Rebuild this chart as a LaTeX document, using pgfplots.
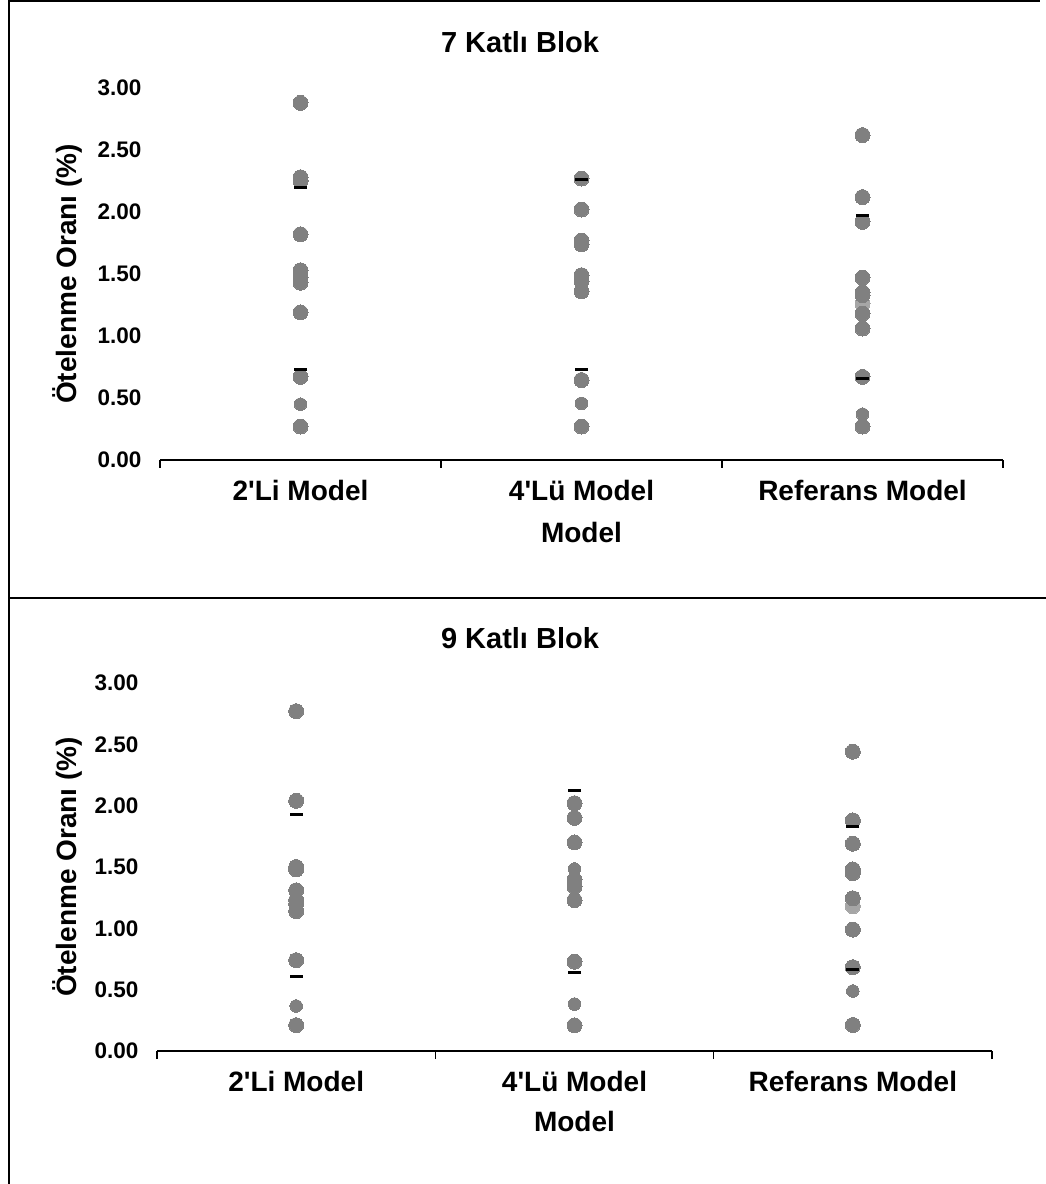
\documentclass[border=0pt]{standalone}
\usepackage{fontspec}
\setmainfont{Liberation Sans}
\usepackage{pgfplots}
\pgfplotsset{compat=1.18}
\definecolor{dotgray}{HTML}{808080}
\definecolor{lightgray}{HTML}{A6A6A6}
\pgfplotsset{
  panel/.style={
    scale only axis,
    xmin=-0.5, xmax=2.5, ymin=0, ymax=3,
    clip=false,
    axis x line*=bottom, axis y line*=left,
    x axis line style={-, line width=1.5pt, black},
    y axis line style={draw=none},
    ytick={0,0.5,1,1.5,2,2.5,3},
    ytick style={draw=none},
    xtick={0,1,2},
    xticklabels={2\textquotesingle Li Model,4\textquotesingle Lü Model,Referans Model},
    xtick style={draw=black, line width=1.5pt},
    major tick length=0pt,
    extra x ticks={-0.5,0.5,1.5,2.5},
    extra x tick labels={},
    extra x tick style={tick align=outside, major tick length=8pt},
    /pgf/number format/assume math mode=true,
    yticklabel={\pgfmathprintnumber[fixed,fixed zerofill,precision=2]{\tick}},
    yticklabel style={font=\fontsize{22.5}{26}\selectfont\bfseries, xshift=-15pt},
    xticklabel style={font=\fontsize{28}{32}\selectfont\bfseries, yshift=-17pt},
    xlabel={Model},
    ylabel={Ötelenme Oranı (\%)},
    label style={font=\fontsize{28}{32}\selectfont\bfseries},
    xlabel style={at={(axis description cs:0.5,0)}, anchor=center, yshift=-72pt},
    ylabel style={at={(axis description cs:0,0.5)}, anchor=center, yshift=93pt},
  },
  bigdot/.style={only marks, color=dotgray, mark=*, mark size=7.5pt, mark options={draw=dotgray, fill=dotgray, line width=0pt}},
  smalldot/.style={only marks, color=dotgray, mark=*, mark size=6.3pt, mark options={draw=dotgray, fill=dotgray, line width=0pt}},
  lightdot/.style={only marks, color=lightgray, mark=*, mark size=7.5pt, mark options={draw=lightgray, fill=lightgray, line width=0pt}},
  dash/.style={only marks, color=black, mark=-, mark size=6.5pt, mark options={draw=black, line width=3pt}},
}
\begin{document}
\begin{tikzpicture}
\path[use as bounding box] (0,0) rectangle (1046pt,1184pt);
\fill[white] (0,0) rectangle (1046pt,1184pt);
% frame lines
\draw[line width=2pt] (9pt,1183pt) -- (1040pt,1183pt);
\draw[line width=2.5pt] (9pt,1184pt) -- (9pt,0pt);
\draw[line width=2.5pt] (9pt,586pt) -- (1046pt,586pt);
% titles
\node at (520pt,1142pt) {\fontsize{29}{34}\selectfont\bfseries 7 Katlı Blok};
\node at (520pt,546pt) {\fontsize{29}{34}\selectfont\bfseries 9 Katlı Blok};

% ---------- top panel ----------
\begin{axis}[panel, at={(160pt,724pt)}, anchor=south west, width=843pt, height=372pt]
\addplot[lightdot] coordinates {(2,1.26)};
\addplot[bigdot] coordinates {
(0,2.88) (0,2.28) (0,2.25) (0,1.82) (0,1.53) (0,1.47) (0,1.43) (0,1.19) (0,0.67) (0,0.27)
(1,2.27) (1,2.02) (1,1.77) (1,1.74) (1,1.49) (1,1.44) (1,1.36) (1,0.645) (1,0.27)
(2,2.62) (2,2.12) (2,1.92) (2,1.47) (2,1.35) (2,1.33) (2,1.18) (2,1.06) (2,0.67) (2,0.27)
};
\addplot[smalldot] coordinates {(0,0.45) (1,0.457) (2,0.37)};
\addplot[dash] coordinates {(0,2.20) (0,0.73) (1,2.265) (1,0.726) (2,1.973) (2,0.656)};
\end{axis}

% ---------- bottom panel ----------
\begin{axis}[panel, at={(157pt,133pt)}, anchor=south west, width=835pt, height=368pt,
  ylabel style={yshift=-3pt}, xlabel style={yshift=2pt}]
\addplot[lightdot] coordinates {(2,1.18)};
\addplot[bigdot] coordinates {
(0,2.77) (0,2.04) (0,1.50) (0,1.48) (0,1.31) (0,1.23) (0,1.20) (0,1.14) (0,0.74) (0,0.21)
(1,2.02) (1,1.90) (1,1.70) (1,1.395) (1,1.34) (1,1.23) (1,0.728) (1,0.209)
(2,2.44) (2,1.88) (2,1.69) (2,1.48) (2,1.45) (2,1.245) (2,0.99) (2,0.683) (2,0.212)
};
\addplot[smalldot] coordinates {(0,0.367) (1,1.484) (1,0.383) (2,0.489)};
\addplot[dash] coordinates {(0,1.93) (0,0.61) (1,2.123) (1,0.642) (2,1.833) (2,0.661)};
\end{axis}
\end{tikzpicture}
\end{document}
